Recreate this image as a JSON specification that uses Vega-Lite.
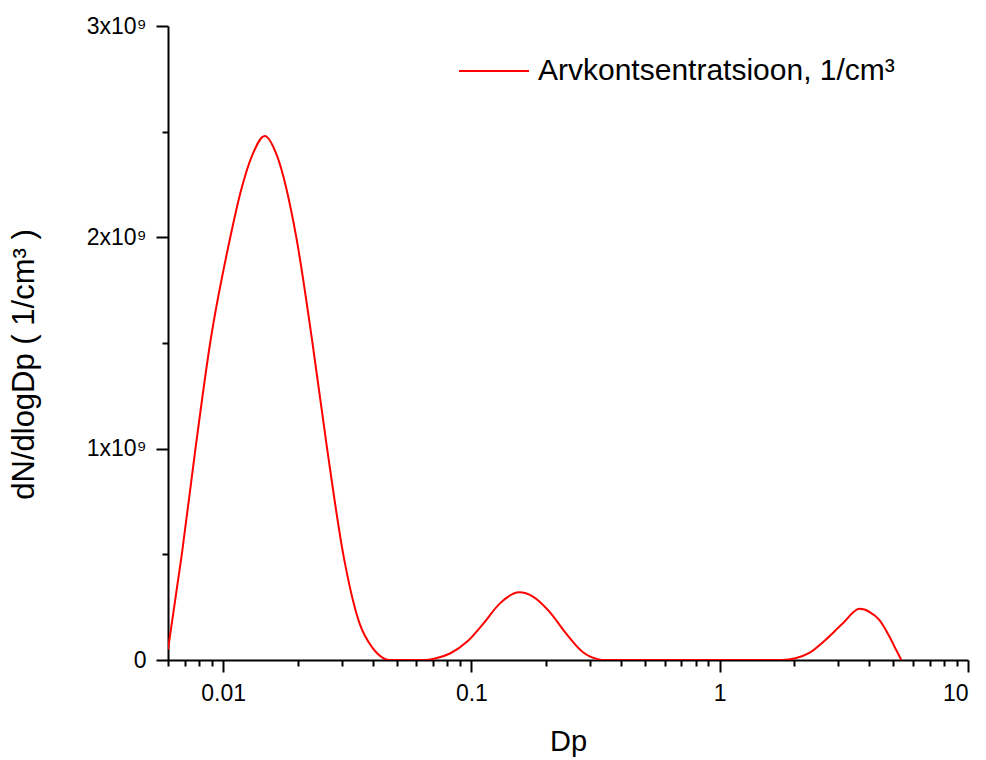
{
  "$schema": "https://vega.github.io/schema/vega-lite/v6.json",
  "width": 800,
  "height": 634,
  "autosize": {"type": "none"},
  "padding": {"left": 168, "top": 26, "right": 18, "bottom": 100},
  "background": "white",
  "config": {
    "view": {"stroke": null},
    "font": "Liberation Sans",
    "axis": {
      "grid": false,
      "domainColor": "black",
      "domainWidth": 2,
      "tickColor": "black",
      "tickWidth": 2,
      "labelColor": "black",
      "titleColor": "black",
      "labelFont": "Liberation Sans",
      "titleFont": "Liberation Sans",
      "titleFontWeight": "normal"
    }
  },
  "data": {
    "values": [
      {"Dp": 0.006, "N": 50000000},
      {"Dp": 0.00682, "N": 500000000},
      {"Dp": 0.00774, "N": 1000000000},
      {"Dp": 0.00887, "N": 1500000000},
      {"Dp": 0.01069, "N": 2000000000},
      {"Dp": 0.0118, "N": 2220000000},
      {"Dp": 0.01312, "N": 2390000000},
      {"Dp": 0.01472, "N": 2480000000},
      {"Dp": 0.01644, "N": 2390000000},
      {"Dp": 0.01972, "N": 2000000000},
      {"Dp": 0.02291, "N": 1500000000},
      {"Dp": 0.02624, "N": 1000000000},
      {"Dp": 0.03048, "N": 500000000},
      {"Dp": 0.03548, "N": 172000000},
      {"Dp": 0.04, "N": 57000000},
      {"Dp": 0.044, "N": 10000000},
      {"Dp": 0.0466, "N": 0},
      {"Dp": 0.055, "N": 0},
      {"Dp": 0.0646, "N": 0},
      {"Dp": 0.0708, "N": 6000000},
      {"Dp": 0.0824, "N": 32000000},
      {"Dp": 0.0962, "N": 87000000},
      {"Dp": 0.1119, "N": 173000000},
      {"Dp": 0.1303, "N": 268000000},
      {"Dp": 0.1556, "N": 320000000},
      {"Dp": 0.177, "N": 300000000},
      {"Dp": 0.2061, "N": 229000000},
      {"Dp": 0.2404, "N": 126000000},
      {"Dp": 0.2799, "N": 39000000},
      {"Dp": 0.3258, "N": 3000000},
      {"Dp": 0.3467, "N": 0},
      {"Dp": 1.0, "N": 0},
      {"Dp": 1.782, "N": 0},
      {"Dp": 2.018, "N": 8000000},
      {"Dp": 2.286, "N": 32000000},
      {"Dp": 2.667, "N": 95000000},
      {"Dp": 3.112, "N": 170000000},
      {"Dp": 3.66, "N": 242000000},
      {"Dp": 4.02, "N": 227000000},
      {"Dp": 4.4, "N": 189000000},
      {"Dp": 4.83, "N": 110000000},
      {"Dp": 5.14, "N": 47000000},
      {"Dp": 5.39, "N": 0}
    ]
  },
  "layer": [
    {
      "mark": {"type": "line", "opacity": 0},
      "encoding": {
        "x": {
          "field": "Dp", "type": "quantitative",
          "scale": {"type": "log", "domain": [0.006, 10], "nice": false},
          "axis": {"orient": "bottom", "title": null, "labels": false, "domain": false, "tickSize": 6,
                   "values": [0.006, 0.007, 0.008, 0.009, 0.02, 0.03, 0.04, 0.05, 0.06, 0.07, 0.08, 0.09, 0.2, 0.3, 0.4, 0.5, 0.6, 0.7, 0.8, 0.9, 2, 3, 4, 5, 6, 7, 8, 9]}
        },
        "y": {
          "field": "N", "type": "quantitative",
          "scale": {"domain": [0, 3000000000], "nice": false, "zero": true},
          "axis": {"orient": "left", "title": null, "labels": false, "domain": false, "tickSize": 6,
                   "values": [500000000, 1500000000, 2500000000]}
        }
      }
    },
    {
      "mark": {"type": "line", "interpolate": "monotone", "strokeWidth": 2, "clip": true},
      "encoding": {
        "x": {
          "field": "Dp", "type": "quantitative",
          "scale": {"type": "log", "domain": [0.006, 10], "nice": false},
          "axis": {"orient": "bottom", "title": "Dp", "values": [0.01, 0.1, 1, 10], "tickSize": 12,
                   "labelFontSize": 23, "labelPadding": 10,
                   "labelExpr": "datum.value >= 1 ? format(datum.value, 'd') : format(datum.value, '.2~')",
                   "titleFontSize": 29, "titlePadding": 22}
        },
        "y": {
          "field": "N", "type": "quantitative",
          "scale": {"domain": [0, 3000000000], "nice": false, "zero": true},
          "axis": {"orient": "left", "title": "dN/dlogDp ( 1/cm³ )", "values": [0, 1000000000, 2000000000, 3000000000],
                   "tickSize": 12, "labelFontSize": 23, "labelPadding": 10,
                   "labelExpr": "datum.value == 0 ? '0' : format(datum.value / 1000000000, 'd') + 'x10⁹'",
                   "titleFontSize": 31, "titlePadding": 46, "titleY": 338}
        },
        "color": {
          "datum": "Arvkontsentratsioon, 1/cm³",
          "type": "nominal",
          "scale": {"range": ["#ff0000"]},
          "legend": {"orient": "none", "legendX": 290, "legendY": 9, "title": null, "symbolType": "stroke",
                     "symbolSize": 4900, "symbolStrokeWidth": 2, "labelFontSize": 30, "labelColor": "black",
                     "labelFont": "Liberation Sans", "labelOffset": 8, "padding": 0, "labelLimit": 600}
        }
      }
    }
  ],
  "resolve": {"axis": {"x": "independent", "y": "independent"}}
}
